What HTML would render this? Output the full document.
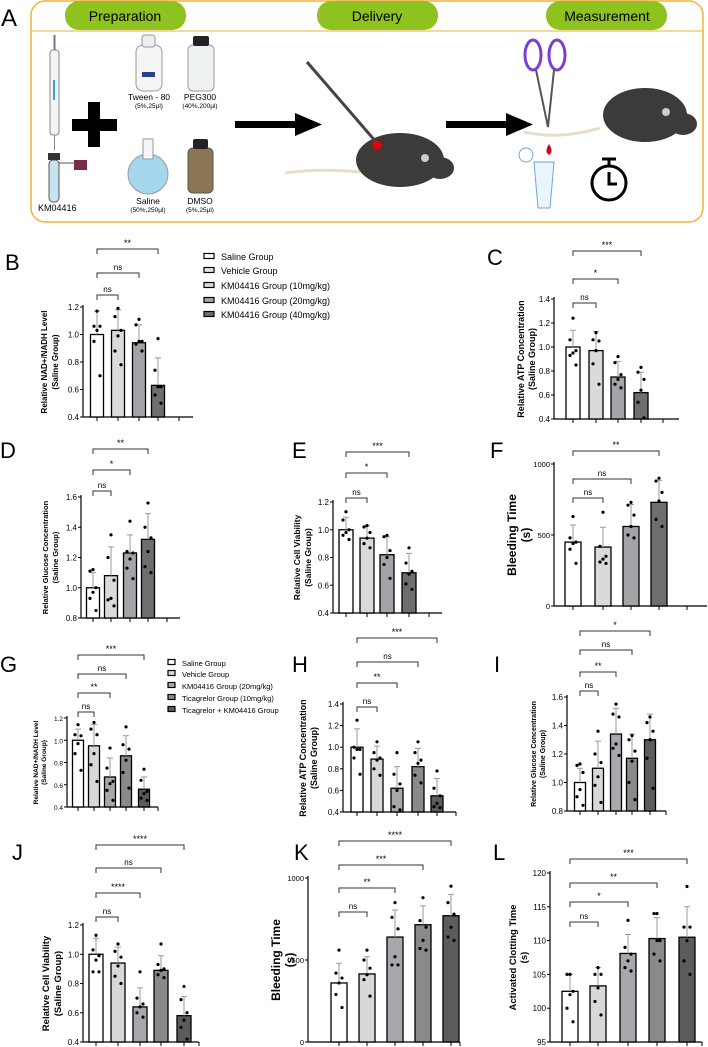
<!DOCTYPE html>
<html><head><meta charset="utf-8"><style>
html,body{margin:0;padding:0;background:#fff}
svg{display:block;font-family:"Liberation Sans",sans-serif}
</style></head><body>
<svg id="fig" width="708" height="1047" viewBox="0 0 708 1047">
<g>
<text x="1" y="26" font-size="24">A</text>
<rect x="31" y="1" width="672" height="221" rx="14" fill="none" stroke="#f2b233" stroke-width="1.5"/>
<line x1="31" y1="31" x2="703" y2="31" stroke="#f2b233" stroke-width="1"/>
<rect x="65" y="1" width="121" height="29" rx="14" fill="#8dc21f"/>
<text x="125" y="21" font-size="14" text-anchor="middle">Preparation</text>
<rect x="317" y="1" width="121" height="29" rx="14" fill="#8dc21f"/>
<text x="377" y="21" font-size="14" text-anchor="middle">Delivery</text>
<rect x="546" y="1" width="121" height="29" rx="14" fill="#8dc21f"/>
<text x="607" y="21" font-size="14" text-anchor="middle">Measurement</text>
<g><rect x="50" y="50" width="9" height="85" rx="3" fill="#f4f4f4" stroke="#888"/><line x1="54.5" y1="35" x2="54.5" y2="50" stroke="#777" stroke-width="2"/><rect x="53" y="80" width="2" height="20" fill="#3aa5c4"/><line x1="54.5" y1="135" x2="54.5" y2="150" stroke="#888"/></g>
<g><rect x="49" y="160" width="10" height="42" rx="4" fill="#c7e3ef" stroke="#555"/><rect x="48" y="153" width="12" height="7" fill="#333"/><rect x="74" y="160" width="13" height="10" fill="#7a2a4a"/><line x1="59" y1="163" x2="74" y2="163" stroke="#555"/></g>
<text x="38" y="211" font-size="9">KM04416</text>
<path d="M88 102h12v17h17v12h-17v16h-12v-16h-16v-12h16z" fill="#000"/>
<g><rect x="136" y="45" width="26" height="46" rx="7" fill="#f5f5f5" stroke="#999"/><rect x="142" y="35" width="13" height="12" rx="3" fill="#eee" stroke="#999"/><rect x="142" y="72" width="13" height="5" fill="#2c3f8f"/></g>
<text x="149" y="100" font-size="8.5" text-anchor="middle">Tween - 80</text>
<text x="149" y="108" font-size="6.5" text-anchor="middle">(5%,25µl)</text>
<g><rect x="188" y="45" width="26" height="46" rx="5" fill="#eef2f2" stroke="#999"/><rect x="193" y="36" width="16" height="10" rx="2" fill="#222"/></g>
<text x="200" y="100" font-size="8.5" text-anchor="middle">PEG300</text>
<text x="200" y="108" font-size="6.5" text-anchor="middle">(40%,200µl)</text>
<g><circle cx="148" cy="174" r="20" fill="#a5d8ee" stroke="#999"/><rect x="143" y="139" width="10" height="20" fill="#f5f5f5" stroke="#999"/></g>
<text x="148" y="204" font-size="8.5" text-anchor="middle">Saline</text>
<text x="148" y="212" font-size="6.5" text-anchor="middle">(50%,250µl)</text>
<g><rect x="188" y="148" width="25" height="45" rx="5" fill="#8b7552" stroke="#555"/><rect x="193" y="139" width="15" height="10" rx="2" fill="#222"/></g>
<text x="200" y="204" font-size="8.5" text-anchor="middle">DMSO</text>
<text x="200" y="212" font-size="6.5" text-anchor="middle">(5%,25µl)</text>
<g><rect x="235" y="121" width="62" height="7" fill="#000"/><path d="M295 113L322 124.5L295 136z" fill="#000"/></g>
<g><rect x="446" y="121" width="62" height="7" fill="#000"/><path d="M506 113L533 124.5L506 136z" fill="#000"/></g>
<g><path d="M285 173Q320 168 360 172" stroke="#e8dccb" stroke-width="3" fill="none"/><ellipse cx="400" cy="160" rx="44" ry="27" fill="#3d3a3a"/><ellipse cx="440" cy="168" rx="14" ry="11" fill="#3d3a3a"/><circle cx="425" cy="158" r="4" fill="#ccc"/><line x1="307" y1="62" x2="377" y2="143" stroke="#444" stroke-width="3"/><circle cx="377" cy="145" r="4.5" fill="#e00"/></g>
<g><ellipse cx="533" cy="55" rx="8" ry="15" fill="none" stroke="#7b3fd0" stroke-width="3"/><ellipse cx="557" cy="55" rx="8" ry="15" fill="none" stroke="#7b3fd0" stroke-width="3"/><path d="M536 70L548 127L554 70" stroke="#555" stroke-width="2" fill="none"/></g>
<g><path d="M524 132Q560 140 600 128" stroke="#e8dccb" stroke-width="3" fill="none"/><ellipse cx="645" cy="115" rx="42" ry="27" fill="#3d3a3a"/><ellipse cx="683" cy="124" rx="14" ry="11" fill="#3d3a3a"/><circle cx="666" cy="112" r="4" fill="#ccc"/></g>
<g><path d="M534 162h20l-4 46h-12z" fill="#eaf4fb" stroke="#6aa9d9"/><circle cx="526" cy="155" r="7" fill="none" stroke="#6aa9d9"/><path d="M549 144q-5 8 0 11q5-3 0-11z" fill="#d0021b"/></g>
<g><circle cx="609" cy="183" r="17" fill="none" stroke="#000" stroke-width="3"/><line x1="609" y1="160" x2="609" y2="166" stroke="#000" stroke-width="3"/><line x1="602" y1="159" x2="616" y2="159" stroke="#000" stroke-width="3"/><path d="M609 172v12h8" fill="none" stroke="#000" stroke-width="3"/></g>
</g>
</svg>
<script>
// ---- Panel B ----
const B_cats=["Saline","Vehicle","KM 10","KM 20"];
const B_means=[1.0,1.03,0.94,0.63];
const B_err=[1.17,1.18,1.07,0.83];
const B_pts=[[1.17,1.06,1.06,1.03,0.95,0.70],[1.19,1.13,1.03,0.99,0.88,0.78],[1.11,1.07,0.95,0.95,0.93,0.88],[0.97,0.74,0.62,0.62,0.56,0.50]];
const B_ticks=[0.4,0.6,0.8,1.0,1.2];
const B_sig=[["**",0,3],["ns",0,2],["ns",0,1]];
// ---- Panel C ----
const C_means=[1.0,0.97,0.75,0.62];
const C_err=[1.14,1.13,0.88,0.79];
const C_pts=[[1.24,1.06,0.97,0.95,0.93,0.85],[1.12,1.06,1.05,0.97,0.86,0.69],[0.92,0.87,0.77,0.73,0.69,0.66],[0.83,0.79,0.73,0.64,0.54,0.41]];
const C_ticks=[0.4,0.6,0.8,1.0,1.2,1.4];
const C_sig=[["***",0,3],["*",0,2],["ns",0,1]];
// ---- Panel D ----
const D_means=[1.0,1.08,1.23,1.32];
const D_err=[1.10,1.27,1.35,1.49];
const D_pts=[[1.12,1.11,1.0,0.97,0.93,0.85],[1.35,1.20,1.05,0.93,0.92,0.88],[1.44,1.24,1.23,1.19,1.13,1.06],[1.56,1.40,1.33,1.24,1.14,1.10]];
const D_ticks=[0.8,1.0,1.2,1.4,1.6];
const D_sig=[["**",0,3],["*",0,2],["ns",0,1]];
// ---- Panel E ----
const E_means=[1.0,0.94,0.82,0.69];
const E_err=[1.09,1.03,0.95,0.83];
const E_pts=[[1.13,1.07,1.0,0.98,0.96,0.93],[1.03,1.02,0.98,0.94,0.90,0.87],[0.96,0.95,0.85,0.80,0.75,0.65],[0.87,0.76,0.70,0.68,0.61,0.57]];
const E_ticks=[0.4,0.6,0.8,1.0,1.2];
const E_sig=[["***",0,3],["*",0,2],["ns",0,1]];
// ---- Panel F ----
const F_means=[450,415,560,730];
const F_err=[570,555,715,885];
const F_pts=[[630,480,450,440,400,300],[660,420,350,330,310,300],[730,710,640,560,500,480],[900,880,800,740,610,560]];
const F_ticks=[0,500,1000];
const F_sig=[["**",0,3],["ns",0,2],["ns",0,1]];
// ---- Panel G ----
const G_means=[1.0,0.95,0.67,0.86,0.56];
const G_err=[1.10,1.14,0.84,1.04,0.67];
const G_pts=[[1.14,1.05,1.04,0.97,0.88,0.73],[1.16,1.10,1.05,0.88,0.78,0.63],[0.93,0.75,0.63,0.61,0.55,0.46],[1.12,0.96,0.92,0.82,0.71,0.57],[0.74,0.64,0.54,0.52,0.48,0.46]];
const G_ticks=[0.4,0.6,0.8,1.0,1.2];
const G_sig=[["***",0,4],["ns",0,3],["**",0,2],["ns",0,1]];
// ---- Panel H ----
const H_means=[1.0,0.89,0.62,0.82,0.55];
const H_err=[1.17,1.01,0.82,0.99,0.71];
const H_pts=[[1.25,1.0,0.98,0.98,0.90,0.75],[1.05,0.95,0.90,0.88,0.80,0.74],[0.95,0.75,0.66,0.60,0.45,0.42],[1.05,0.95,0.88,0.85,0.74,0.67],[0.78,0.62,0.55,0.48,0.45,0.44]];
const H_ticks=[0.4,0.6,0.8,1.0,1.2,1.4];
const H_sig=[["***",0,4],["ns",0,3],["**",0,2],["ns",0,1]];
// ---- Panel I ----
const I_means=[1.0,1.10,1.34,1.17,1.30];
const I_err=[1.10,1.29,1.52,1.34,1.48];
const I_pts=[[1.13,1.12,1.07,0.95,0.90,0.84],[1.36,1.20,1.14,1.04,0.98,0.86],[1.55,1.48,1.46,1.27,1.24,1.19],[1.33,1.30,1.22,1.15,1.0,0.88],[1.46,1.42,1.36,1.30,1.17,0.96]];
const I_ticks=[0.8,1.0,1.2,1.4,1.6];
const I_sig=[["*",0,4],["ns",0,3],["**",0,2],["ns",0,1]];
// ---- Panel J ----
const J_means=[1.0,0.94,0.64,0.89,0.58];
const J_err=[1.11,1.05,0.77,0.99,0.71];
const J_pts=[[1.13,1.03,0.99,0.96,0.88,0.88],[1.07,1.02,0.98,0.92,0.85,0.80],[0.88,0.70,0.66,0.64,0.60,0.57],[1.07,0.93,0.90,0.89,0.86,0.84],[0.78,0.69,0.60,0.55,0.50,0.42]];
const J_ticks=[0.4,0.6,0.8,1.0,1.2];
const J_sig=[["****",0,4],["ns",0,3],["****",0,2],["ns",0,1]];
// ---- Panel K ----
const K_means=[360,415,640,715,770];
const K_err=[480,520,805,830,900];
const K_pts=[[560,420,390,360,290,210],[560,500,450,410,380,280],[850,760,690,520,470,470],[880,740,700,620,570,560],[950,850,780,700,640,620]];
const K_ticks=[0,500,1000];
const K_sig=[["****",0,4],["***",0,3],["**",0,2],["ns",0,1]];
// ---- Panel L ----
const L_means=[102.5,103.3,108.1,110.3,110.5];
const L_err=[105,106,110.9,113.4,115];
const L_pts=[[105,105,102.5,102,100,98],[106,105,105,103,101,99],[113,109,108,107,106,105.5],[114,114,110,110,108,107],[118,112,112,110,107,105]];
const L_ticks=[95,100,105,110,115,120];
const L_sig=[["***",0,4],["**",0,3],["*",0,2],["ns",0,1]];

const legend4=["Saline Group","Vehicle Group","KM04416 Group (10mg/kg)","KM04416 Group (20mg/kg)","KM04416 Group (40mg/kg)"];
const legend5=["Saline Group","Vehicle Group","KM04416 Group (20mg/kg)","Ticagrelor Group (10mg/kg)","Ticagrelor + KM04416 Group"];
const fill4=["#ffffff","#dadada","#a4a4a8","#6e6e6e"];
const fill5=["#ffffff","#d8d8d8","#a8a8ac","#8a8a8a","#5c5c5c"];

const NS="http://www.w3.org/2000/svg";
const svg=document.getElementById('fig');
function mk(tag,attrs,parent,txt){const e=document.createElementNS(NS,tag);for(const k in attrs)e.setAttribute(k,attrs[k]);if(txt!==undefined)e.textContent=txt;(parent||svg).appendChild(e);return e;}

function panel(p){
  const g=mk('g',{});
  
  
  const y=v=>p.y0+(v-p.v0)/(p.v1-p.v0)*(p.y1-p.y0);
  const x=i=>p.bx[i];
  const lab=mk('text',{x:p.lx,y:p.ly,'font-size':22},g,p.id);
  
  
  const ax=mk('line',{x1:p.ax,y1:p.y1-2,x2:p.ax,y2:p.y0,stroke:'#000','stroke-width':1.2},g);
  
  
  const xa=mk('line',{x1:p.ax,y1:p.y0,x2:p.xend,y2:p.y0,stroke:'#000','stroke-width':1.2},g);
  
  
  const fs=p.tfs||8;
  p.ticks.forEach(t=>{
    mk('line',{x1:p.ax-3,y1:y(t),x2:p.ax,y2:y(t),stroke:'#000'},g);
    const tl=mk('text',{x:p.ax-4,y:y(t)+3,'font-size':fs,'text-anchor':'end'},g,p.ticks[0]>=95||p.ticks[p.ticks.length-1]>=1000?String(t):t.toFixed(1));
    
    
  });
  const xt=p.bx.concat([p.extra]);
  xt.forEach(xx=>mk('line',{x1:xx,y1:p.y0,x2:xx,y2:p.y0+4,stroke:'#000'},g));
  p.means.forEach((m,i)=>{
    const bar=mk('rect',{x:x(i)-p.bw/2,y:y(m),width:p.bw,height:p.y0-y(m),fill:p.fills[i],stroke:'#000','stroke-width':1.3},g);
    
    
    const eb=mk('path',{d:`M${x(i)} ${y(m)}V${y(p.err[i])}M${x(i)-3} ${y(p.err[i])}h6`,stroke:'#999','stroke-width':1,fill:'none'},g);
    
    
    const n=p.pts[i].length;
    p.pts[i].forEach((v,j)=>{
      const off=[0,-3,3,0,-3,3][j%6];
      const d=mk('circle',{cx:x(i)+off,cy:y(v),r:1.6,fill:'#000'},g);
      
      
    });
  });
  p.sig.forEach((s,k)=>{
    const by=p.sy[k];
    const br=mk('path',{d:`M${x(s[1])} ${by+5}V${by}H${x(s[2])}V${by+5}`,stroke:'#333','stroke-width':1,fill:'none'},g);
    
    
    const st=mk('text',{x:(x(s[1])+x(s[2]))/2,y:by-3,'font-size':s[0]=='ns'?8:9,'text-anchor':'middle'},g,s[0]);
    
    
  });
  const cy=(p.y0+p.y1)/2;
  p.title.forEach((t,k)=>{
    const tx=p.ax-p.tOff+k*p.tGap;
    const te=mk('text',{x:tx,y:cy,'font-size':p.titleFs,'font-weight':'bold','text-anchor':'middle',transform:`rotate(-90 ${tx} ${cy})`},g,t);
    
    
  });
}
function legend(items,fills,x0,ys,fs,bw){
  const g=mk('g',{});
  
  
  items.forEach((t,i)=>{
    const r=mk('rect',{x:x0,y:ys[i]-3.5,width:bw,height:5,fill:fills[i],stroke:'#000','stroke-width':1.2},g);
    
    
    const tx=mk('text',{x:x0+bw+7,y:ys[i]+3,'font-size':fs},g,t);
    
    
  });
}
const ratioTitle=(a)=>[a,"(Saline Group)"];
panel({id:'B',lx:5,ly:270,ax:83,xend:193,y0:417,y1:307,v0:0.4,v1:1.2,bx:[97,118,139,158],extra:179,bw:13,fills:fill4,means:B_means,err:B_err,pts:B_pts,ticks:B_ticks,sig:B_sig,sy:[249,273,295],title:ratioTitle("Relative NAD+/NADH Level"),tOff:36,tGap:11,titleFs:8});
legend(legend4,[fill4[0],"#e4e4e4",fill4[1],fill4[2],fill4[3]],204,[257,271,286,301,315],9,10);
panel({id:'C',lx:487,ly:265,ax:554,xend:679,y0:419,y1:299,v0:0.4,v1:1.4,bx:[573,596,618,641],extra:663,bw:14,fills:fill4,means:C_means,err:C_err,pts:C_pts,ticks:C_ticks,sig:C_sig,sy:[251,279,303],title:ratioTitle("Relative ATP Concentration"),tOff:30,tGap:11,titleFs:9});
panel({id:'D',lx:0,ly:458,ax:81,xend:180,y0:618,y1:497,v0:0.8,v1:1.6,bx:[93,111,130,148],extra:167,bw:13,fills:fill4,means:D_means,err:D_err,pts:D_pts,ticks:D_ticks,sig:D_sig,sy:[449,470,491],title:ratioTitle("Relative  Glucose Concentration"),tOff:33,tGap:10,titleFs:7.5});
panel({id:'E',lx:292,ly:458,ax:333,xend:442,y0:613,y1:502,v0:0.4,v1:1.2,bx:[346,367,387,409],extra:429,bw:14,fills:fill4,means:E_means,err:E_err,pts:E_pts,ticks:E_ticks,sig:E_sig,sy:[452,473,498],title:ratioTitle("Relative Cell Viability"),tOff:33,tGap:11,titleFs:8.5});
panel({id:'F',lx:490,ly:458,ax:554,xend:707,y0:606,y1:464,v0:0,v1:1000,bx:[573,603,631,659],extra:687,bw:16,fills:fill4,means:F_means,err:F_err,pts:F_pts,ticks:F_ticks,sig:F_sig,sy:[451,479,498],title:["Bleeding Time","(s)"],tOff:38,tGap:14,titleFs:12,tfs:7.5});
panel({id:'G',lx:0,ly:672,ax:67,xend:158,y0:807,y1:718,v0:0.4,v1:1.2,bx:[78,94,110,126,144],extra:158,bw:11,fills:fill5,means:G_means,err:G_err,pts:G_pts,ticks:G_ticks,sig:G_sig,sy:[655,674,693,712],title:ratioTitle("Relative NAD+/NADH Level"),tOff:29,tGap:8,titleFs:6.5,tfs:6.5});
legend(legend5,fill5,168,[663,674,686,698,710],7.5,7);
panel({id:'H',lx:292,ly:672,ax:343,xend:456,y0:812,y1:704,v0:0.4,v1:1.4,bx:[357,377,397,418,437],extra:456,bw:12,fills:fill5,means:H_means,err:H_err,pts:H_pts,ticks:H_ticks,sig:H_sig,sy:[638,662,683,707],title:ratioTitle("Relative ATP Concentration"),tOff:37,tGap:11,titleFs:9});
panel({id:'I',lx:494,ly:672,ax:567,xend:666,y0:811,y1:697,v0:0.8,v1:1.6,bx:[580,598,616,632,650],extra:666,bw:11,fills:fill5,means:I_means,err:I_err,pts:I_pts,ticks:I_ticks,sig:I_sig,sy:[631,650,672,691],title:ratioTitle("Relative  Glucose Concentration"),tOff:31,tGap:9,titleFs:7});
panel({id:'J',lx:12,ly:860,ax:83,xend:199,y0:1042,y1:925,v0:0.4,v1:1.2,bx:[96,118,140,161,184],extra:199,bw:14,fills:fill5,means:J_means,err:J_err,pts:J_pts,ticks:J_ticks,sig:J_sig,sy:[845,868,893,917],title:ratioTitle("Relative Cell Viability"),tOff:34,tGap:12,titleFs:9.5});
panel({id:'K',lx:294,ly:860,ax:308,xend:460,y0:1042,y1:878,v0:0,v1:1000,bx:[339,367,395,423,451],extra:460,bw:16,fills:fill5,means:K_means,err:K_err,pts:K_pts,ticks:K_ticks,sig:K_sig,sy:[841,865,888,912],title:["Bleeding Time","(s)"],tOff:28,tGap:14,titleFs:12,tfs:7.5});
panel({id:'L',lx:493,ly:860,ax:550,xend:702,y0:1042,y1:873,v0:95,v1:120,bx:[570,598,628,657,687],extra:702,bw:16,fills:fill5,means:L_means,err:L_err,pts:L_pts,ticks:L_ticks,sig:L_sig,sy:[859,883,902,922],title:["Activated Clotting Time","(s)"],tOff:34,tGap:11,titleFs:9.5});
</script>
</body></html>
